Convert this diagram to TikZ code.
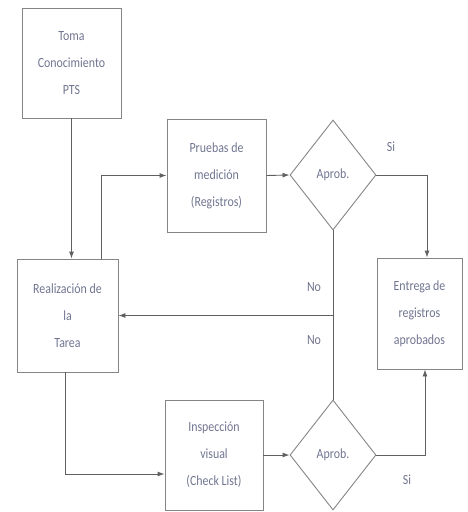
\documentclass[tikz,border=0pt]{standalone}
\usepackage{fontspec}
\setmainfont{Carlito}[FakeStretch=0.85]
\usepackage{xcolor}
\usetikzlibrary{shapes.geometric,arrows.meta}

\definecolor{linegray}{HTML}{606060}
\definecolor{boxgray}{HTML}{858585}
\definecolor{txtgray}{HTML}{707590}

\tikzset{
  box/.style={draw=boxgray, line width=0.9pt, align=center, inner sep=0pt,
    text=txtgray, font=\fontsize{14}{27}\selectfont},
  decision/.style={diamond, draw=boxgray, line width=0.9pt, inner sep=0pt,
    minimum width=86pt, minimum height=110pt, text=txtgray,
    font=\fontsize{14}{16}\selectfont},
  arr/.style={draw=linegray, line width=0.9pt, -{Latex[length=7pt,width=5pt]}},
  line/.style={draw=linegray, line width=0.9pt},
  lbl/.style={text=txtgray, font=\fontsize{14}{16}\selectfont}
}

\begin{document}
\begin{tikzpicture}[x=1pt,y=-1pt]
\useasboundingbox (0,0) rectangle (467,512);

\node[box, minimum width=99pt, minimum height=110pt] (toma) at (71.5,63)
  {Toma\\Conocimiento\\PTS};
\node[box, minimum width=101pt, minimum height=113pt] (real) at (67.5,315.5)
  {Realización de\\la\\Tarea};
\node[box, minimum width=99pt, minimum height=113pt] (prue) at (216.5,175.5)
  {Pruebas de\\medición\\(Registros)};
\node[decision] (apr1) at (333,175) {Aprob.};
\node[box, minimum width=85pt, minimum height=111pt] (entr) at (419.5,313.5)
  {Entrega de\\registros\\aprobados};
\node[box, minimum width=98pt, minimum height=110pt] (insp) at (214,455)
  {Inspección\\visual\\(Check List)};
\node[decision] (apr2) at (333,455) {Aprob.};

\coordinate (nojoin) at (apr1.south |- real.east);

\draw[arr] (toma.south) -- (toma.south |- real.north);
\draw[arr] ([xshift=34pt]real.north) |- (prue.west);
\draw[arr] (prue.east) -- (apr1.west);
\draw[arr] (apr1.east) -| ([xshift=7.5pt]entr.north);
\draw[line] (apr1.south) -- (apr2.north);
\draw[arr] (nojoin) -- (real.east);
\draw[arr] ([xshift=-2.5pt]real.south) |- ([yshift=-19pt]insp.west);
\draw[arr] (insp.east) -- (apr2.west);
\draw[arr] (apr2.east) -| ([xshift=5.5pt]entr.south);

\node[lbl] (si1) at (391,147) {Si};
\node[lbl] (no1) at (314,287) {No};
\node[lbl] (no2) at (314,340) {No};
\node[lbl] (si2) at (407,480) {Si};
\end{tikzpicture}
\end{document}
